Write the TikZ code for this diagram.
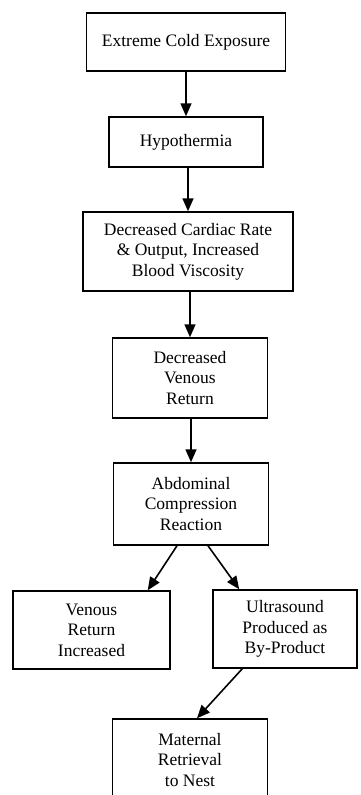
\documentclass[tikz,border=0pt]{standalone}
\usepackage{fontspec}
\setmainfont{Liberation Serif}
\usetikzlibrary{arrows.meta}
\begin{document}
\begin{tikzpicture}[x=1pt,y=-1pt,
  box/.style={draw, line width=1.5pt, rectangle, align=center, inner sep=0pt,
    font=\fontsize{17.5}{20.5}\selectfont},
  arr/.style={line width=1.6pt, -{Triangle[length=13pt,width=11pt]}}]
\useasboundingbox (0,0) rectangle (361,795);
\node[box, minimum width=199pt, minimum height=58pt] (a) at (186,42) {Extreme Cold Exposure};
\node[box, minimum width=154pt, minimum height=50pt] (b) at (186,142) {Hypothermia};
\node[box, minimum width=210pt, minimum height=79pt] (c) at (188,251.5) {Decreased Cardiac Rate\\ \& Output, Increased\\ Blood Viscosity};
\node[box, minimum width=155pt, minimum height=80pt] (d) at (190,378) {Decreased\\ Venous\\ Return};
\node[box, minimum width=155pt, minimum height=82pt] (e) at (191,504) {Abdominal\\ Compression\\ Reaction};
\node[box, minimum width=157pt, minimum height=78pt] (f) at (91.5,630) {Venous\\ Return\\ Increased};
\node[box, minimum width=144pt, minimum height=78pt] (g) at (285,629) {Ultrasound\\ Produced as\\ By-Product};
\node[box, minimum width=155pt, minimum height=82pt] (h) at (190,760) {Maternal\\ Retrieval\\ to Nest};
\draw[arr] (b.north |- a.south) -- (b.north);
\draw[arr] (c.north |- b.south) -- (c.north);
\draw[arr] (d.north |- c.south) -- (d.north);
\draw[arr] (e.north |- d.south) -- (e.north);
\draw[arr] ([xshift=-14pt]e.south) -- ([xshift=-23pt]f.north east);
\draw[arr] ([xshift=17pt]e.south) -- ([xshift=27pt]g.north west);
\draw[arr] ([xshift=30pt]g.south west) -- ([xshift=7pt]h.north);
\end{tikzpicture}
\end{document}
